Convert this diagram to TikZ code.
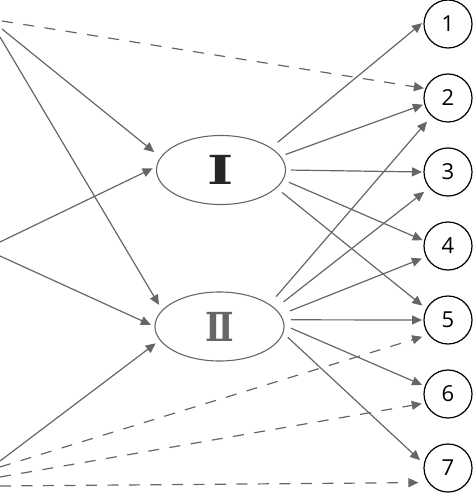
\documentclass[tikz,border=0pt]{standalone}
\usepackage{fontspec}
\usetikzlibrary{shapes.geometric,arrows.meta}
\newfontfamily\numfont{Open Sans}
\newfontfamily\romfont{DejaVu Serif}
\definecolor{linegray}{RGB}{102,102,102}

\begin{document}
\begin{tikzpicture}[x=1pt,y=-1pt,
    num/.style={circle,draw,line width=1.2pt,minimum size=48pt,inner sep=0pt,outer sep=2pt,
      font=\numfont\fontsize{22}{22}\selectfont},
    grp/.style={ellipse,draw=linegray,line width=1.1pt,minimum width=129pt,minimum height=69pt,
      inner sep=0pt,font=\romfont\bfseries\fontsize{40}{40}\selectfont},
    link/.style={draw=linegray,line width=1.2pt,-{Triangle[length=10pt,width=9pt]}},
    dlink/.style={link,dash pattern=on 11pt off 10.5pt}]
  \useasboundingbox (0,0) rectangle (474,494);
  % outcomes
  \foreach \i in {1,...,7}
    \node[num] (n\i) at (448,{24+74*(\i-1)}) {\i};
  % the two groups
  \node[grp,text=black!85] (gI) at (221,170) {\scalebox{1.4}[1]{Ⅰ}};
  \node[grp,text=linegray] (gII) at (219.5,326.5) {\scalebox{0.85}[1]{Ⅱ}};
  % inputs at the left edge
  \coordinate (a1) at (2,21);
  \coordinate (a2) at (2,29);
  \coordinate (a3) at (0,37);
  \coordinate (b1) at (0,242);
  \coordinate (b2) at (0,256);
  \coordinate (c1) at (0,461);
  \coordinate (c2) at (0,467);
  \coordinate (c3) at (0,477);
  \coordinate (c4) at (0,486);
  % inputs -> groups
  \draw[link,shorten >=8pt] (a2) -- (gI.168);
  \draw[link,shorten >=4pt] (b1) -- (gI.177);
  \draw[link,shorten >=6pt] (a3) -- (gII.164);
  \draw[link,shorten >=4pt] (b2) -- (gII.180);
  \draw[link,shorten >=5pt] (c1) -- (gII.193);
  % inputs -> outcomes (dashed)
  \draw[dlink] (a1) -- (n2.158);
  \draw[dlink,shorten >=5pt] (c2) -- (n5.216);
  \draw[dlink,shorten >=2pt] (c3) -- (n6.201);
  \draw[dlink,shorten >=8pt] (c4) -- (n7.214);
  % group I -> outcomes
  \draw[link,shorten <=8.5pt] (gI.24) -- (n1.178);
  \draw[link,shorten <=5pt] (gI.13) -- (n2.195);
  \draw[link,shorten <=5pt] (gI.0) -- (n3.180);
  \draw[link,shorten <=6pt] (gI.-9) -- (n4.167);
  \draw[link,shorten <=7pt,shorten >=3.5pt] (gI.-18) -- (n5.152);
  % group II -> outcomes
  \draw[link,shorten <=10pt,shorten >=5.5pt] (gII.24) -- (n2.228);
  \draw[link,shorten <=10.5pt,shorten >=5pt] (gII.18.5) -- (n3.220);
  \draw[link,shorten <=10pt,shorten >=3pt] (gII.11) -- (n4.206);
  \draw[link,shorten <=7.5pt] (gII.6) -- (n5.180);
  \draw[link,shorten <=7pt,shorten >=1.5pt] (gII.1) -- (n6.161);
  \draw[link,shorten <=6pt,shorten >=3.5pt] (gII.-6) -- (n7.168);
\end{tikzpicture}
\end{document}
